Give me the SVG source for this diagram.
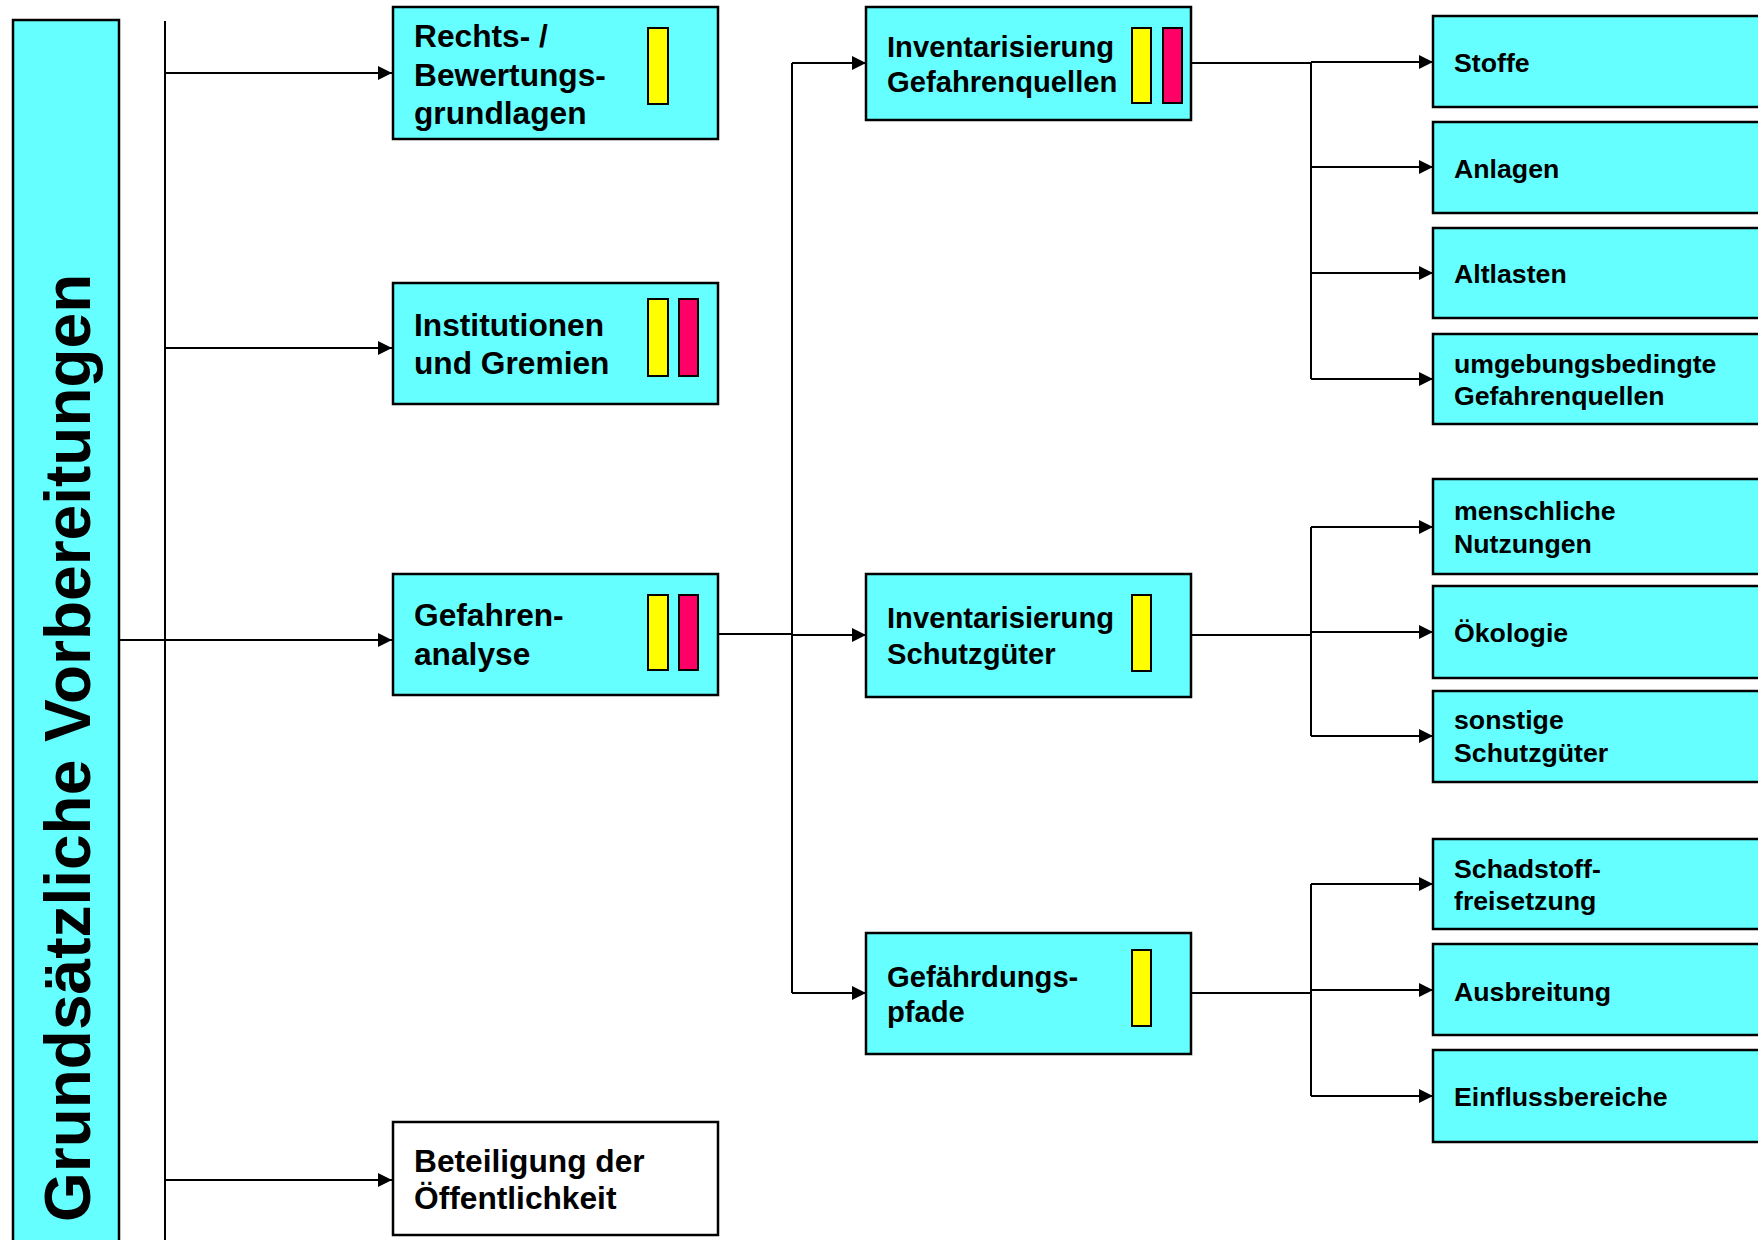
<svg xmlns="http://www.w3.org/2000/svg" width="1758" height="1240" viewBox="0 0 1758 1240">
<style>
.box{fill:#66FFFF;stroke:#000;stroke-width:2.5}
.wbox{fill:#FFFFFF;stroke:#000;stroke-width:2.5}
.y{fill:#FFFF00;stroke:#000;stroke-width:2}
.r{fill:#FF0066;stroke:#000;stroke-width:2}
.t{font-family:"Liberation Sans",Arial,sans-serif;font-weight:bold;fill:#000}
.t1{font-size:31.7px}
.t2{font-size:29.2px}
.t3{font-size:26.7px}
.c{fill:none;stroke:#000;stroke-width:2}
</style>
<defs>
<marker id="ah" markerUnits="userSpaceOnUse" markerWidth="16" markerHeight="16" refX="14" refY="7" orient="auto">
<path d="M0,0 L14,7 L0,14 z" fill="#000"/>
</marker>
</defs>
<rect width="1758" height="1240" fill="#fff"/>

<g id="connectors">
<path class="c" d="M165,21 V1240"/>
<path class="c" d="M165,73 H392" marker-end="url(#ah)"/>
<path class="c" d="M165,348 H392" marker-end="url(#ah)"/>
<path class="c" d="M119,640 H392" marker-end="url(#ah)"/>
<path class="c" d="M165,1180 H392" marker-end="url(#ah)"/>
<path class="c" d="M718,634 H792"/>
<path class="c" d="M792,63 V993"/>
<path class="c" d="M792,63 H866" marker-end="url(#ah)"/>
<path class="c" d="M792,635 H866" marker-end="url(#ah)"/>
<path class="c" d="M792,993 H866" marker-end="url(#ah)"/>
<path class="c" d="M1191,63 H1311 M1311,62 V379"/>
<path class="c" d="M1311,62 H1433" marker-end="url(#ah)"/>
<path class="c" d="M1311,167 H1433" marker-end="url(#ah)"/>
<path class="c" d="M1311,273 H1433" marker-end="url(#ah)"/>
<path class="c" d="M1311,379 H1433" marker-end="url(#ah)"/>
<path class="c" d="M1191,635 H1311 M1311,527 V736"/>
<path class="c" d="M1311,527 H1433" marker-end="url(#ah)"/>
<path class="c" d="M1311,632 H1433" marker-end="url(#ah)"/>
<path class="c" d="M1311,736 H1433" marker-end="url(#ah)"/>
<path class="c" d="M1191,993 H1311 M1311,884 V1096"/>
<path class="c" d="M1311,884 H1433" marker-end="url(#ah)"/>
<path class="c" d="M1311,990 H1433" marker-end="url(#ah)"/>
<path class="c" d="M1311,1096 H1433" marker-end="url(#ah)"/>
</g>

<g id="title">
<rect class="box" x="13" y="20" width="106" height="1240"/>
<text class="t" font-size="64" transform="translate(90,1222) rotate(-90)">Grundsätzliche Vorbereitungen</text>
</g>

<g id="rechts">
<rect class="box" x="393" y="7" width="325" height="132"/>
<rect class="y" x="648" y="28" width="20" height="76"/>
<text class="t t1" x="414" y="47">Rechts- /</text>
<text class="t t1" x="414" y="86">Bewertungs-</text>
<text class="t t1" x="414" y="124">grundlagen</text>
</g>

<g id="institutionen">
<rect class="box" x="393" y="283" width="325" height="121"/>
<rect class="y" x="648" y="299" width="20" height="77"/>
<rect class="r" x="679" y="299" width="19" height="77"/>
<text class="t t1" x="414" y="336">Institutionen</text>
<text class="t t1" x="414" y="374">und Gremien</text>
</g>

<g id="gefahrenanalyse">
<rect class="box" x="393" y="574" width="325" height="121"/>
<rect class="y" x="648" y="595" width="20" height="75"/>
<rect class="r" x="679" y="595" width="19" height="75"/>
<text class="t t1" x="414" y="626">Gefahren-</text>
<text class="t t1" x="414" y="665">analyse</text>
</g>

<g id="beteiligung">
<rect class="wbox" x="393" y="1122" width="325" height="113"/>
<text class="t t1" x="414" y="1172">Beteiligung der</text>
<text class="t t1" x="414" y="1209">Öffentlichkeit</text>
</g>

<g id="inv-gefahrenquellen">
<rect class="box" x="866" y="7" width="325" height="113"/>
<rect class="y" x="1132" y="28" width="19" height="75"/>
<rect class="r" x="1163" y="28" width="19" height="75"/>
<text class="t t2" x="887" y="57">Inventarisierung</text>
<text class="t t2" x="887" y="92">Gefahrenquellen</text>
</g>

<g id="inv-schutzgueter">
<rect class="box" x="866" y="574" width="325" height="123"/>
<rect class="y" x="1132" y="595" width="19" height="76"/>
<text class="t t2" x="887" y="628">Inventarisierung</text>
<text class="t t2" x="887" y="664">Schutzgüter</text>
</g>

<g id="gefaehrdungspfade">
<rect class="box" x="866" y="933" width="325" height="121"/>
<rect class="y" x="1132" y="950" width="19" height="76"/>
<text class="t t2" x="887" y="987">Gefährdungs-</text>
<text class="t t2" x="887" y="1022">pfade</text>
</g>

<g id="stoffe">
<rect class="box" x="1433" y="16" width="340" height="91"/>
<text class="t t3" x="1454" y="72">Stoffe</text>
</g>
<g id="anlagen">
<rect class="box" x="1433" y="122" width="340" height="91"/>
<text class="t t3" x="1454" y="178">Anlagen</text>
</g>
<g id="altlasten">
<rect class="box" x="1433" y="228" width="340" height="90"/>
<text class="t t3" x="1454" y="283">Altlasten</text>
</g>
<g id="umgebungsbedingte">
<rect class="box" x="1433" y="334" width="340" height="90"/>
<text class="t t3" x="1454" y="373">umgebungsbedingte</text>
<text class="t t3" x="1454" y="405">Gefahrenquellen</text>
</g>
<g id="menschliche">
<rect class="box" x="1433" y="479" width="340" height="95"/>
<text class="t t3" x="1454" y="520">menschliche</text>
<text class="t t3" x="1454" y="553">Nutzungen</text>
</g>
<g id="oekologie">
<rect class="box" x="1433" y="586" width="340" height="92"/>
<text class="t t3" x="1454" y="642">Ökologie</text>
</g>
<g id="sonstige">
<rect class="box" x="1433" y="691" width="340" height="91"/>
<text class="t t3" x="1454" y="729">sonstige</text>
<text class="t t3" x="1454" y="762">Schutzgüter</text>
</g>
<g id="schadstoff">
<rect class="box" x="1433" y="839" width="340" height="90"/>
<text class="t t3" x="1454" y="878">Schadstoff-</text>
<text class="t t3" x="1454" y="910">freisetzung</text>
</g>
<g id="ausbreitung">
<rect class="box" x="1433" y="944" width="340" height="91"/>
<text class="t t3" x="1454" y="1001">Ausbreitung</text>
</g>
<g id="einfluss">
<rect class="box" x="1433" y="1050" width="340" height="92"/>
<text class="t t3" x="1454" y="1106">Einflussbereiche</text>
</g>
</svg>
